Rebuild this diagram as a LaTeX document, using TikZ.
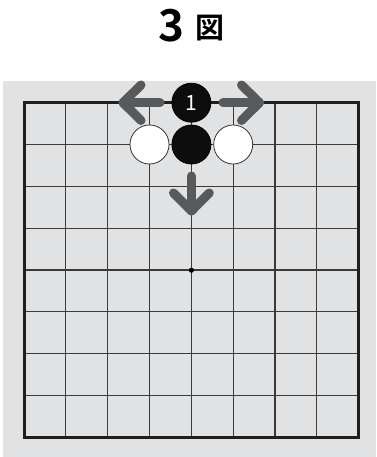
\documentclass[tikz,border=0pt]{standalone}
\usepackage{fontspec}
\newfontfamily\cjk{Noto Sans CJK JP}[BoldFont={Noto Sans CJK JP Bold}]
\definecolor{bg}{HTML}{E1E2E4}
\definecolor{arrowc}{HTML}{58595B}
\definecolor{gridc}{HTML}{3A3A3A}
\begin{document}
\begin{tikzpicture}[x=1pt,y=-1pt,
  gridline/.style={gridc,line width=1.2pt},
  border/.style={black!88,line width=3pt},
  whitestone/.style={circle,draw=black!80,line width=0.8pt,fill=white,minimum size=39pt,inner sep=0pt},
  blackstone/.style={circle,draw=black,line width=0.8pt,fill=black!95,minimum size=39pt,inner sep=0pt},
  mv/.style={arrowc,line width=9pt,line cap=round,line join=round}]
\useasboundingbox (0,0) rectangle (376,457);
\fill[bg] (3,81) rectangle (376,457);
\def\gs{41.84}
\foreach \i in {1,...,7} {
  \draw[gridline] ({24+\i*\gs},102.7) -- ({24+\i*\gs},437.3);
  \draw[gridline] (24,{102.7+\i*41.83}) -- (358.7,{102.7+\i*41.83});
}
\draw[border] (24,102.7) rectangle (358.7,437.3);
\fill[black] (191.4,270.2) circle (2.6);
% stones
\node[whitestone] (w1) at (149.5,144.5) {};
\node[blackstone] (b0) at (191.4,144.5) {};
\node[whitestone] (w2) at (233.2,144.5) {};
\node[blackstone,text=white,font=\cjk\fontsize{21}{21}\selectfont] (b1) at (191.4,102.7) {1};
% arrows
\coordinate (ls) at (160,102.7);
\coordinate (lt) at (123,102.7);
\coordinate (lu) at (141,85);
\coordinate (ld) at (141,120.5);
\coordinate (rs) at (223,102.7);
\coordinate (rt) at (259.5,102.7);
\coordinate (ru) at (241.5,85);
\coordinate (rd) at (241.5,120.5);
\coordinate (ds) at (191.4,176);
\coordinate (dt) at (191.4,211);
\coordinate (dl) at (173.5,193);
\coordinate (dr) at (209.3,193);
\draw[mv] (ls) -- (lt);
\draw[mv] (lu) -- (lt) -- (ld);
\draw[mv] (rs) -- (rt);
\draw[mv] (ru) -- (rt) -- (rd);
\draw[mv] (ds) -- (dt);
\draw[mv] (dl) -- (dt) -- (dr);
% title
\node[font=\cjk\bfseries\fontsize{44}{44}\selectfont,anchor=base,inner sep=0pt] (n3) at (171.5,42) {3};
\node[font=\cjk\bfseries\fontsize{29}{29}\selectfont,anchor=base west,inner sep=0pt] (zu) at (195.5,38.5) {図};
\end{tikzpicture}
\end{document}
